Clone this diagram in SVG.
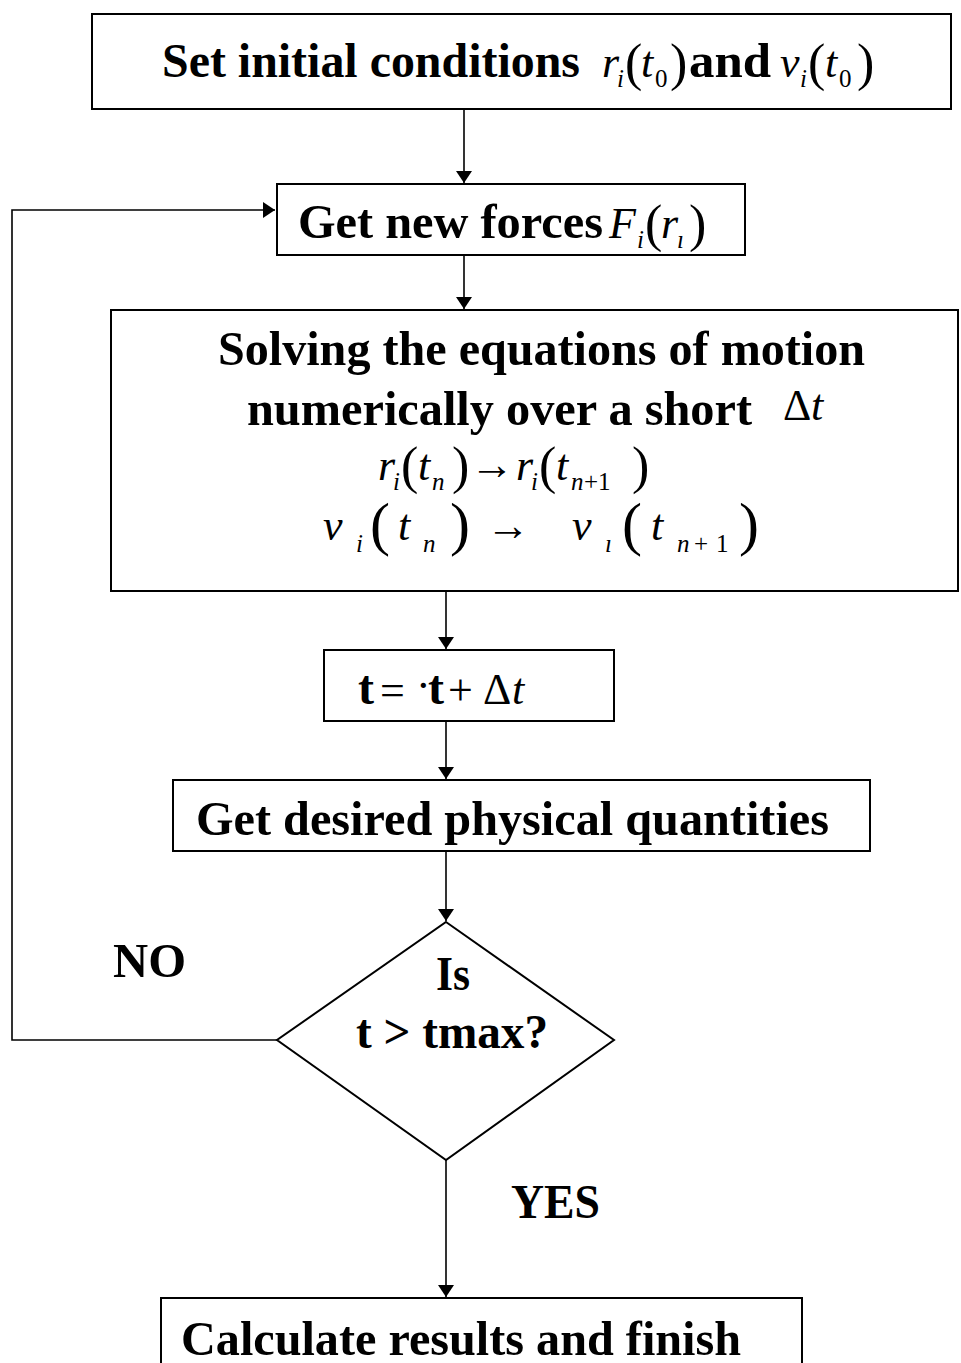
<svg xmlns="http://www.w3.org/2000/svg" width="961" height="1363" viewBox="0 0 961 1363">
<defs>
<style>
.box{fill:#fff;stroke:#000;stroke-width:2}
.ln{fill:none;stroke:#000;stroke-width:1.6}
.b{font-family:"Liberation Serif",serif;font-weight:bold;font-size:48px;fill:#000}
.m{font-family:"Liberation Serif",serif;font-style:italic;font-weight:normal;font-size:44px;fill:#000}
.u{font-family:"Liberation Serif",serif;font-style:normal;font-weight:normal;font-size:44px;fill:#000}
.s{font-style:italic;font-size:25px}
.su{font-style:normal;font-size:25px}
.p{font-style:normal;font-size:52px}
.pb{font-style:normal;font-size:60px}
.ar{font-style:normal;font-size:44px}
</style>
<marker id="ah" viewBox="0 0 12 16" refX="12" refY="8" markerWidth="12" markerHeight="16" markerUnits="userSpaceOnUse" orient="auto">
<path d="M0,0 L12,8 L0,16 Z" fill="#000"/>
</marker>
</defs>
<rect width="961" height="1363" fill="#fff"/>
<g id="connectors">
<line class="ln" x1="464" y1="109" x2="464" y2="183" marker-end="url(#ah)"/>
<line class="ln" x1="464" y1="255" x2="464" y2="309" marker-end="url(#ah)"/>
<line class="ln" x1="446" y1="591" x2="446" y2="649" marker-end="url(#ah)"/>
<line class="ln" x1="446" y1="721" x2="446" y2="779" marker-end="url(#ah)"/>
<line class="ln" x1="446" y1="851" x2="446" y2="921" marker-end="url(#ah)"/>
<line class="ln" x1="446" y1="1160" x2="446" y2="1297" marker-end="url(#ah)"/>
<polyline class="ln" points="277,1040 12,1040 12,210 275,210" marker-end="url(#ah)"/>
<text class="b" x="113" y="977" textLength="73" lengthAdjust="spacingAndGlyphs">NO</text>
<text class="b" x="511" y="1218" textLength="89" lengthAdjust="spacingAndGlyphs">YES</text>
</g>
<g id="n1">
<rect class="box" x="92" y="14" width="859" height="95"/>
<text class="b" x="162" y="77" textLength="418" lengthAdjust="spacingAndGlyphs">Set initial conditions</text>
<text class="m"><tspan x="602" y="77">r</tspan><tspan class="s" x="617" y="87">i</tspan><tspan class="p" x="625" y="80">(</tspan><tspan x="641" y="77">t</tspan><tspan class="su" x="655" y="87">0</tspan><tspan class="p" x="670" y="80">)</tspan></text>
<text class="b" x="689" y="77" textLength="82" lengthAdjust="spacingAndGlyphs">and</text>
<text class="m"><tspan x="780" y="77">v</tspan><tspan class="s" x="800" y="87">i</tspan><tspan class="p" x="808" y="80">(</tspan><tspan x="825" y="77">t</tspan><tspan class="su" x="839" y="87">0</tspan><tspan class="p" x="857" y="80">)</tspan></text>
</g>
<g id="n2">
<rect class="box" x="277" y="184" width="468" height="71"/>
<text class="b" x="298" y="238" textLength="305" lengthAdjust="spacingAndGlyphs">Get new forces</text>
<text class="m"><tspan x="609" y="238">F</tspan><tspan class="s" x="637" y="248">i</tspan><tspan class="p" x="645" y="241">(</tspan><tspan x="661" y="238">r</tspan><tspan class="s" x="677" y="248">ı</tspan><tspan class="p" x="689" y="241">)</tspan></text>
</g>
<g id="n3">
<rect class="box" x="111" y="310" width="847" height="281"/>
<text class="b" x="218" y="365" textLength="647" lengthAdjust="spacingAndGlyphs">Solving the equations of motion</text>
<text class="b" x="247" y="425" textLength="505" lengthAdjust="spacingAndGlyphs">numerically over a short</text>
<text class="m" font-size="40"><tspan class="u" font-size="40" x="783" y="420">Δ</tspan><tspan x="811" y="420">t</tspan></text>
<text class="m"><tspan x="378" y="480">r</tspan><tspan class="s" x="393" y="490">i</tspan><tspan class="p" x="401" y="483">(</tspan><tspan x="418" y="480">t</tspan><tspan class="s" x="432" y="490">n</tspan><tspan class="p" x="452" y="483">)</tspan><tspan class="ar" x="470" y="479">→</tspan><tspan x="516" y="480">r</tspan><tspan class="s" x="531" y="490">i</tspan><tspan class="p" x="539" y="483">(</tspan><tspan x="556" y="480">t</tspan><tspan class="s" x="571" y="490">n</tspan><tspan class="su" x="584" y="490">+1</tspan><tspan class="p" x="632" y="483">)</tspan></text>
<text class="m"><tspan x="323" y="540">v</tspan><tspan class="s" x="356" y="552">i</tspan><tspan class="pb" x="370" y="544">(</tspan><tspan x="398" y="540">t</tspan><tspan class="s" x="423" y="552">n</tspan><tspan class="pb" x="450" y="544">)</tspan><tspan class="ar" x="486" y="540">→</tspan><tspan x="572" y="540">v</tspan><tspan class="s" x="605" y="552">ı</tspan><tspan class="pb" x="622" y="544">(</tspan><tspan x="651" y="540">t</tspan><tspan class="s" x="677" y="552">n</tspan><tspan class="su" x="694" y="552">+</tspan><tspan class="su" x="716" y="552">1</tspan><tspan class="pb" x="739" y="544">)</tspan></text>
</g>
<g id="n4">
<rect class="box" x="324" y="650" width="290" height="71"/>
<text class="b"><tspan x="358" y="704">t</tspan><tspan class="u" font-size="54" x="380" y="705">=</tspan><tspan class="u" font-size="30" x="416" y="700">·</tspan><tspan x="428" y="704">t</tspan><tspan class="u" font-size="54" x="448" y="705">+</tspan><tspan class="u" font-size="42" x="483" y="704">Δ</tspan><tspan class="m" font-size="42" x="512" y="704">t</tspan></text>
</g>
<g id="n5">
<rect class="box" x="173" y="780" width="697" height="71"/>
<text class="b" x="196" y="835" textLength="633" lengthAdjust="spacingAndGlyphs">Get desired physical quantities</text>
</g>
<g id="n6">
<polygon class="box" points="446,922 614,1040 446,1160 277,1040"/>
<text class="b" x="436" y="990" textLength="34" lengthAdjust="spacingAndGlyphs">Is</text>
<text class="b" x="356" y="1048" textLength="192" lengthAdjust="spacingAndGlyphs">t &gt; tmax?</text>
</g>
<g id="n7">
<rect class="box" x="161" y="1298" width="641" height="90"/>
<text class="b" x="181" y="1355" textLength="560" lengthAdjust="spacingAndGlyphs">Calculate results and finish</text>
</g>
</svg>
